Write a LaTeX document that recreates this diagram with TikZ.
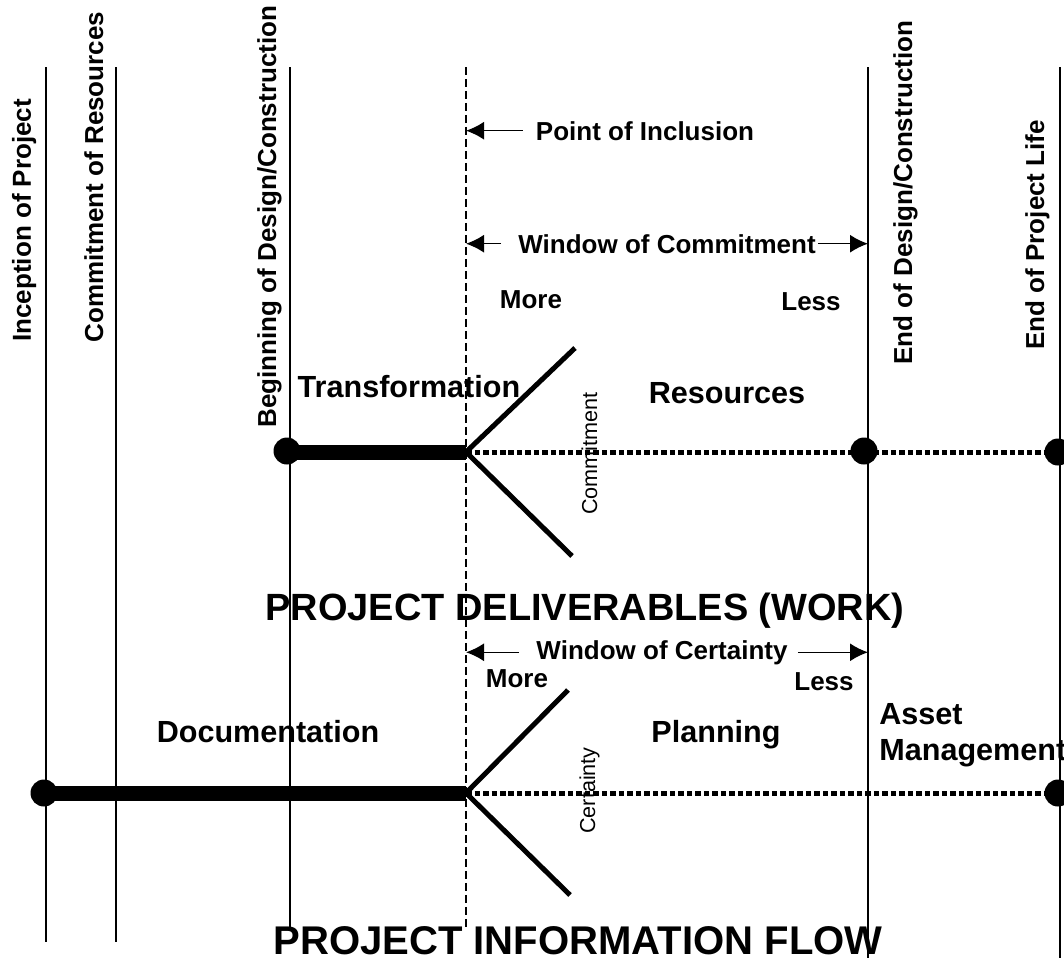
\documentclass[tikz,border=0pt]{standalone}
\usepackage{fontspec}
\setmainfont{Liberation Sans}
\usetikzlibrary{arrows.meta, positioning, calc}
\tikzset{
	milestone/.style={draw, line width=0.85pt},
	inclusion/.style={draw, line width=0.85pt, dash pattern=on 0.16cm off 0.08cm},
	deliver/.style={line width=0.3cm},
	pending/.style={line width=0.1cm, dash pattern=on 0.11cm off 0.06cm},
	fork/.style={line width=0.1cm, line join=round},
	bullet/.style={circle, fill=black, inner sep=0pt, minimum size=0.54cm},
	window/.style={draw, line width=0.85pt, -{Latex[length=0.36cm,width=0.36cm]}},
	mlabel/.style={rotate=90, anchor=base west, inner sep=0pt, font=\bfseries\fontsize{14.8pt}{17pt}\selectfont},
	note/.style={inner sep=0pt, anchor=base, font=\bfseries\fontsize{14.8pt}{17pt}\selectfont},
	phase/.style={inner sep=0pt, anchor=base, font=\bfseries\fontsize{17.4pt}{20.4pt}\selectfont},
	caption/.style={inner sep=0pt, anchor=base, font=\bfseries\fontsize{#1}{26pt}\selectfont},
	caption/.default=22pt,
	fanlabel/.style={rotate=90, anchor=base west, inner sep=0pt, font=\fontsize{12.3pt}{14pt}\selectfont}
}

\begin{document}
\begin{tikzpicture}[x=0.02cm, y=-0.02cm]
	\useasboundingbox (0,0) rectangle (1064,960);
	% milestone lines
	\coordinate (incT) at (46,67);    \coordinate (incB) at (46,942);
	\coordinate (comT) at (116,67);   \coordinate (comB) at (116,942);
	\coordinate (begT) at (290,67);   \coordinate (begB) at (290,930);
	\coordinate (ptT) at (466,67);    \coordinate (ptB) at (466,930);
	\coordinate (endT) at (868,67);   \coordinate (endB) at (868,958);
	\coordinate (lifeT) at (1060,67); \coordinate (lifeB) at (1060,958);
	\draw[milestone] (incT) -- (incB);
	\draw[milestone] (comT) -- (comB);
	\draw[milestone] (begT) -- (begB);
	\draw[inclusion] (ptT) -- (ptB);
	\draw[milestone] (endT) -- (endB);
	\draw[milestone] (lifeT) -- (lifeB);

	\node[mlabel] (inc) at (31,342) {Inception of Project};
	\node[mlabel] (com) at (103,343) {Commitment of Resources};
	\node[mlabel] (beg) at (276,428) {Beginning of Design/Construction};
	\node[mlabel] (end) at (912,365) {End of Design/Construction};
	\node[mlabel] (life) at (1044,350) {End of Project Life};

	% windows
	\node[note] (incl) at (645,140) {Point of Inclusion};
	\draw[window] ([xshift=-0.26cm]incl.west) -- (incl.west -| ptT);
	\node[note] (wcom) at (667,253) {Window of Commitment};
	\draw[window] ([xshift=-0.34cm]wcom.west) -- (wcom.west -| ptT);
	\draw[window] ([xshift=0.04cm]wcom.east) -- (wcom.east -| endT);
	\node[note] (wcert) at (662,659) {Window of Certainty};
	\draw[window] ([xshift=-0.34cm]wcert.west) -- (wcert.west -| ptT);
	\draw[window] ([xshift=0.2cm]wcert.east) -- (wcert.east -| endT);

	% work track
	\node[bullet] (w1) at (287,451) {};
	\node[bullet] (w2) at (864,451) {};
	\node[bullet] (w3) at (1058,452) {};
	\coordinate (w0) at (466,452);
	\coordinate (wup) at (575,348);
	\coordinate (wdn) at (572,556);
	\draw[deliver] (w1.center |- w0) -- (w0);
	\draw[pending] (w0) -- (w3.center);
	\draw[fork] (wup) -- (w0) -- (wdn);

	\node[note] (more1) at (531,308) {More};
	\node[note] (less1) at (811,310) {Less};
	\node[phase] (trans) at (409,397) {Transformation};
	\node[phase] (res) at (727,403) {Resources};
	\node[fanlabel] (cmt) at (597,515) {Commitment};
	\node[caption=21.6pt] (work) at (585,620) {PROJECT DELIVERABLES (WORK)};

	% information track
	\node[bullet] (i1) at (44,793) {};
	\node[bullet] (i2) at (1058,793) {};
	\coordinate (i0) at (466,793);
	\coordinate (iup) at (568,690);
	\coordinate (idn) at (570,895);
	\draw[deliver] (i1.center) -- (i0);
	\draw[pending] (i0) -- (i2.center);
	\draw[fork] (iup) -- (i0) -- (idn);

	\node[note] (more2) at (517,687) {More};
	\node[note] (less2) at (824,690) {Less};
	\node[phase] (doc) at (268,742) {Documentation};
	\node[phase] (plan) at (716,742) {Planning};
	\node[phase, anchor=north west, align=left] (asset) at (879,703) {Asset\\Management};
	\node[fanlabel] (cert) at (595,834) {Certainty};
	\node[caption=22.8pt] (info) at (578,954) {PROJECT INFORMATION FLOW};
\end{tikzpicture}
\end{document}
